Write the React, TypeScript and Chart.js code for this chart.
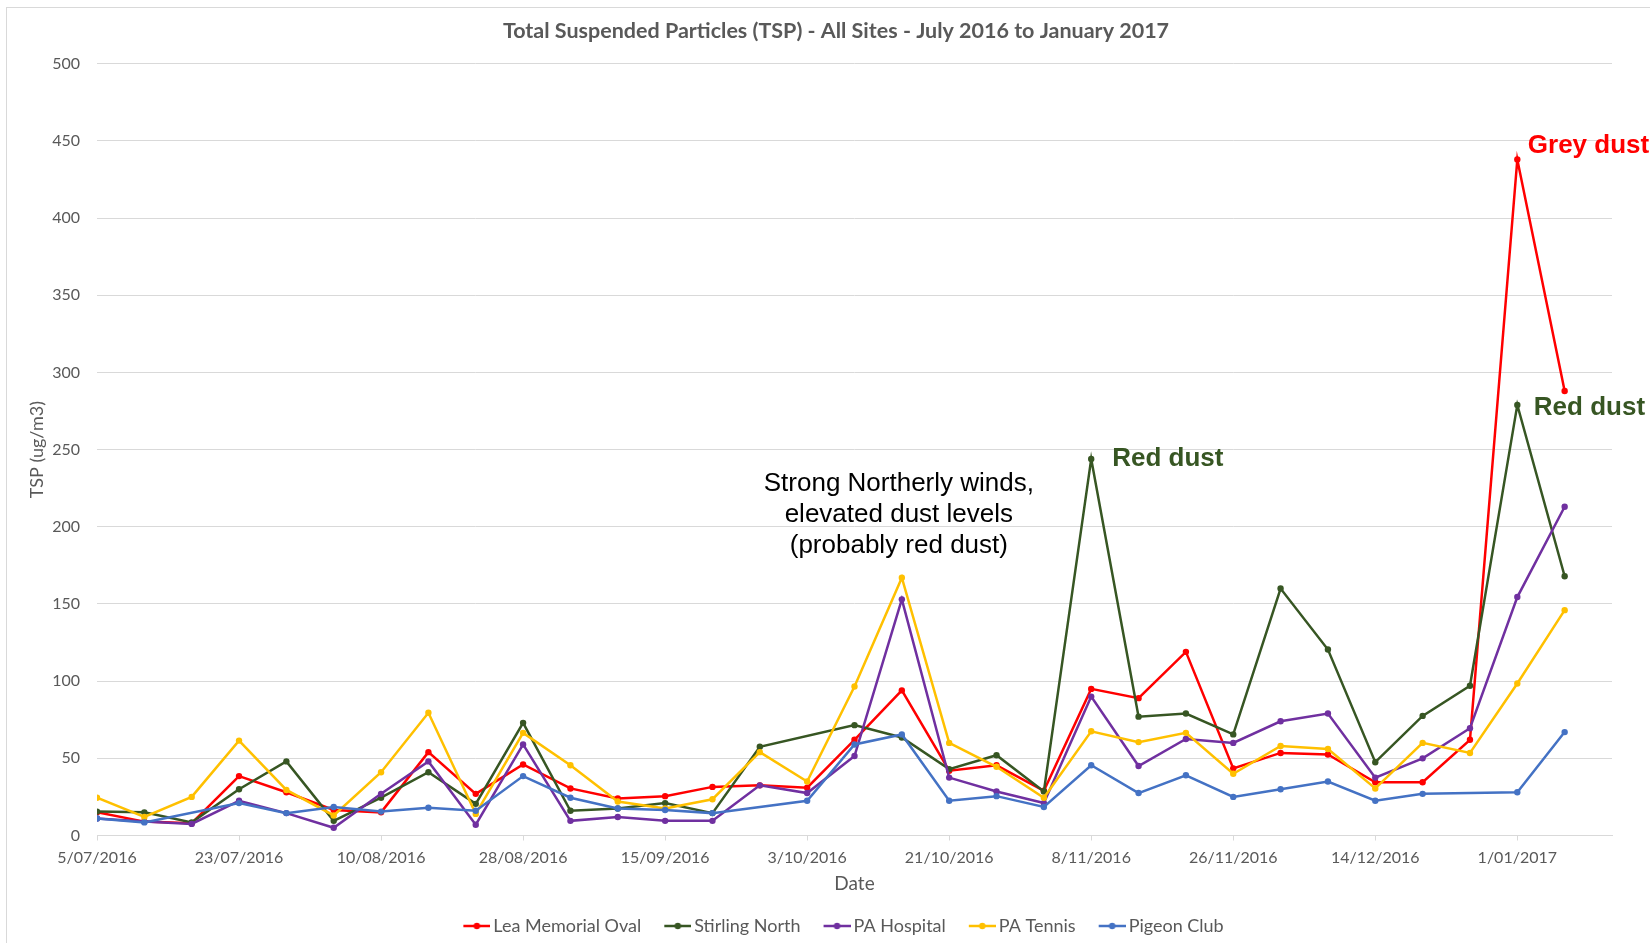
import React, { useEffect, useRef } from "react";
import { Chart, registerables } from "chart.js";

Chart.register(...registerables);

// ---------- data ----------
const dates = [
  "2016-07-05", "2016-07-11", "2016-07-17", "2016-07-23", "2016-07-29", "2016-08-04",
  "2016-08-10", "2016-08-16", "2016-08-22", "2016-08-28", "2016-09-03", "2016-09-09",
  "2016-09-15", "2016-09-21", "2016-09-27", "2016-10-03", "2016-10-09", "2016-10-15",
  "2016-10-21", "2016-10-27", "2016-11-02", "2016-11-08", "2016-11-14", "2016-11-20",
  "2016-11-26", "2016-12-02", "2016-12-08", "2016-12-14", "2016-12-20", "2016-12-26",
  "2017-01-01", "2017-01-07",
];

const leaMemorialOval = [
  15, 9, 8, 38.5, 28, 16.5, 15, 54, 27, 46, 30.5, 24, 25.5, 31.5, 32.5, 31,
  62, 94, 42, 45.5, 29, 95, 89, 119, 43.5, 53.5, 52.5, 34.5, 34.5, 62, 438, 288,
];
const stirlingNorth = [
  15.5, 15, 8.5, 30, 48, 9.5, 24.5, 41, 20.5, 73, 16, 17.5, 21, 14.5, 57.5, null,
  71.5, 63.5, 43, 52, 28.5, 244, 77, 79, 65.5, 160, 120.5, 47.5, 77.5, 97, 279, 168,
];
const paHospital = [
  11, 9, 7.5, 22.5, 14.5, 5, 27, 48, 7, 59, 9.5, 12, 9.5, 9.5, 32.5, 27.5,
  51.5, 153, 37.5, 28.5, 21, 90, 45, 62.5, 60, 74, 79, 37.5, 50, 69.5, 154.5, 213,
];
const paTennis = [
  24.5, 12, 25, 61.5, 29.5, 13, 41, 79.5, 14, 66.5, 45.5, 22, 17.5, 23.5, 54, 35,
  96.5, 167, 60, 44.5, 24.5, 67.5, 60.5, 66.5, 40, 58, 56, 30.5, 60, 53.5, 98.5, 146,
];
const pigeonClub = [
  11, 8.5, null, 21, 14.5, 18.5, 15.5, 18, 16, 38.5, 24.5, 17.5, 16.5, 14.5, null, 22.5,
  59, 65.5, 22.5, 25.5, 18.5, 45.5, 27.5, 39, 25, 30, 35, 22.5, 27, null, 28, 67,
];

const seriesNames = ["Lea Memorial Oval", "Stirling North", "PA Hospital", "PA Tennis", "Pigeon Club"];
const seriesValues = [leaMemorialOval, stirlingNorth, paHospital, paTennis, pigeonClub];
const seriesColors = ["#FF0000", "#375623", "#7030A0", "#FFC000", "#4472C4"];

const tickDates = [
  "2016-07-05", "2016-07-23", "2016-08-10", "2016-08-28", "2016-09-15", "2016-10-03",
  "2016-10-21", "2016-11-08", "2016-11-26", "2016-12-14", "2017-01-01",
];
const axisEndDate = "2017-01-13";
const yMin = 0;
const yMax = 500;
const yStep = 50;

const chartTitle = "Total Suspended Particles (TSP) - All Sites - July 2016 to January 2017";
const xTitle = "Date";
const yTitle = "TSP (ug/m3)";

// ---------- helpers ----------
const DAY = 86400000;
const ORIGIN = Date.UTC(2016, 6, 5);
function dayOf(s: string): number {
  const [y, m, d] = s.split("-").map(Number);
  return (Date.UTC(y, m - 1, d) - ORIGIN) / DAY;
}
function fmtDay(v: number): string {
  const dt = new Date(ORIGIN + Math.round(v) * DAY);
  return `${dt.getUTCDate()}/${String(dt.getUTCMonth() + 1).padStart(2, "0")}/${dt.getUTCFullYear()}`;
}

const GREY = "#595959";
const GRID = "#d9d9d9";
const FONT = "Lato, Carlito, 'Liberation Sans', sans-serif";

function makeSymbol(color: string): HTMLCanvasElement {
  const c = document.createElement("canvas");
  c.width = 48;
  c.height = 10;
  const g = c.getContext("2d")!;
  g.strokeStyle = color;
  g.lineWidth = 2.5;
  g.beginPath();
  g.moveTo(21, 5);
  g.lineTo(48, 5);
  g.stroke();
  g.fillStyle = color;
  g.beginPath();
  g.arc(34.5, 5, 3.2, 0, Math.PI * 2);
  g.fill();
  return c;
}

const notesPlugin = {
  id: "dustNotes",
  afterDatasetsDraw(chart: any) {
    const ctx = chart.ctx as CanvasRenderingContext2D;
    const pt = (ds: number, date: string) => chart.getDatasetMeta(ds).data[dates.indexOf(date)];
    ctx.save();
    ctx.textBaseline = "middle";

    const grey = pt(0, "2017-01-01");
    ctx.font = "bold 26px 'Liberation Sans', Arial, sans-serif";
    ctx.textAlign = "left";
    ctx.fillStyle = seriesColors[0];
    ctx.fillText("Grey dust", grey.x + 10.5, grey.y - 14);

    const red1 = pt(1, "2017-01-01");
    ctx.fillStyle = seriesColors[1];
    ctx.fillText("Red dust", red1.x + 16.5, red1.y + 3);

    const red2 = pt(1, "2016-11-08");
    ctx.fillText("Red dust", red2.x + 21, red2.y);

    const wind = pt(3, "2016-10-15");
    ctx.font = "26px 'Liberation Sans', Arial, sans-serif";
    ctx.textAlign = "center";
    ctx.fillStyle = "#000000";
    const lines = ["Strong Northerly winds,", "elevated dust levels", "(probably red dust)"];
    lines.forEach((t, i) => ctx.fillText(t, wind.x - 3, wind.y - 94 + i * 31));
    ctx.restore();
  },
};

export default function App() {
  const ref = useRef<HTMLCanvasElement>(null);

  useEffect(() => {
    if (!ref.current) return;
    const symbols = seriesColors.map(makeSymbol);
    const datasets = seriesNames.map((name, i) => ({
      label: name,
      data: dates.map((d, k) => ({ x: dayOf(d), y: seriesValues[i][k] })),
      borderColor: seriesColors[i],
      backgroundColor: seriesColors[i],
      pointBackgroundColor: seriesColors[i],
      pointBorderColor: seriesColors[i],
      borderWidth: 2.5,
      pointRadius: 3.2,
      pointHoverRadius: 3.2,
      pointBorderWidth: 0,
      tension: 0,
      spanGaps: true,
      order: seriesNames.length - i,
    }));

    const chart = new Chart(ref.current, {
      type: "line",
      data: { datasets } as any,
      plugins: [notesPlugin],
      options: {
        animation: false,
        responsive: false,
        maintainAspectRatio: false,
        events: [],
        layout: { padding: 0 },
        plugins: {
          title: {
            display: true,
            text: chartTitle,
            color: GREY,
            font: { family: FONT, size: 21.5, weight: "bold" },
            padding: { top: 10, bottom: 20 },
          },
          legend: {
            position: "bottom",
            labels: {
              usePointStyle: true,
              pointStyleWidth: 36,
              color: GREY,
              font: { family: FONT, size: 18 },
              padding: 8,
              generateLabels: (c: any) =>
                c.data.datasets.map((ds: any, i: number) => ({
                  text: ds.label,
                  fillStyle: ds.borderColor,
                  strokeStyle: ds.borderColor,
                  lineWidth: 0,
                  pointStyle: symbols[i],
                  hidden: false,
                  datasetIndex: i,
                  fontColor: GREY,
                })),
            },
          },
          tooltip: { enabled: false },
        },
        scales: {
          x: {
            type: "linear",
            min: 0,
            max: dayOf(axisEndDate),
            afterBuildTicks: (s: any) => {
              s.ticks = tickDates.map((d) => ({ value: dayOf(d) }));
            },
            afterFit: (s: any) => {
              s.height = 73.5;
            },
            ticks: {
              callback: (v: any) => fmtDay(Number(v)),
              color: GREY,
              font: { family: FONT, size: 16 },
              padding: 7.5,
              maxRotation: 0,
              autoSkip: false,
            },
            grid: { drawOnChartArea: false, drawTicks: true, tickLength: 5, color: GRID },
            border: { color: GRID },
            title: {
              display: true,
              text: xTitle,
              color: GREY,
              font: { family: FONT, size: 19 },
              padding: { top: 13.6, bottom: 13.6 },
            },
          },
          y: {
            min: yMin,
            max: yMax,
            afterFit: (s: any) => {
              s.width = 89;
            },
            ticks: {
              stepSize: yStep,
              color: GREY,
              font: { family: FONT, size: 16 },
              padding: 17,
            },
            grid: { color: GRID, drawTicks: false },
            border: { display: false },
            title: {
              display: true,
              text: yTitle,
              color: GREY,
              font: { family: FONT, size: 18 },
              padding: { top: 18, bottom: 18 },
            },
          },
          rightSpace: {
            type: "linear",
            position: "right",
            display: true,
            grid: { display: false, drawTicks: false },
            border: { display: false },
            ticks: { display: false },
            afterFit: (s: any) => {
              s.width = 52;
            },
          },
        },
      } as any,
    });
    return () => chart.destroy();
  }, []);

  return (
    <>
      <div
        style={{
          position: "fixed",
          left: 6,
          top: 7,
          width: 2000,
          height: 2000,
          border: "1px solid #d9d9d9",
          background: "#ffffff",
        }}
      />
      <canvas
        ref={ref}
        width={1656}
        height={937}
        style={{ position: "fixed", left: 8, top: 8, width: 1656, height: 937 }}
      />
    </>
  );
}
